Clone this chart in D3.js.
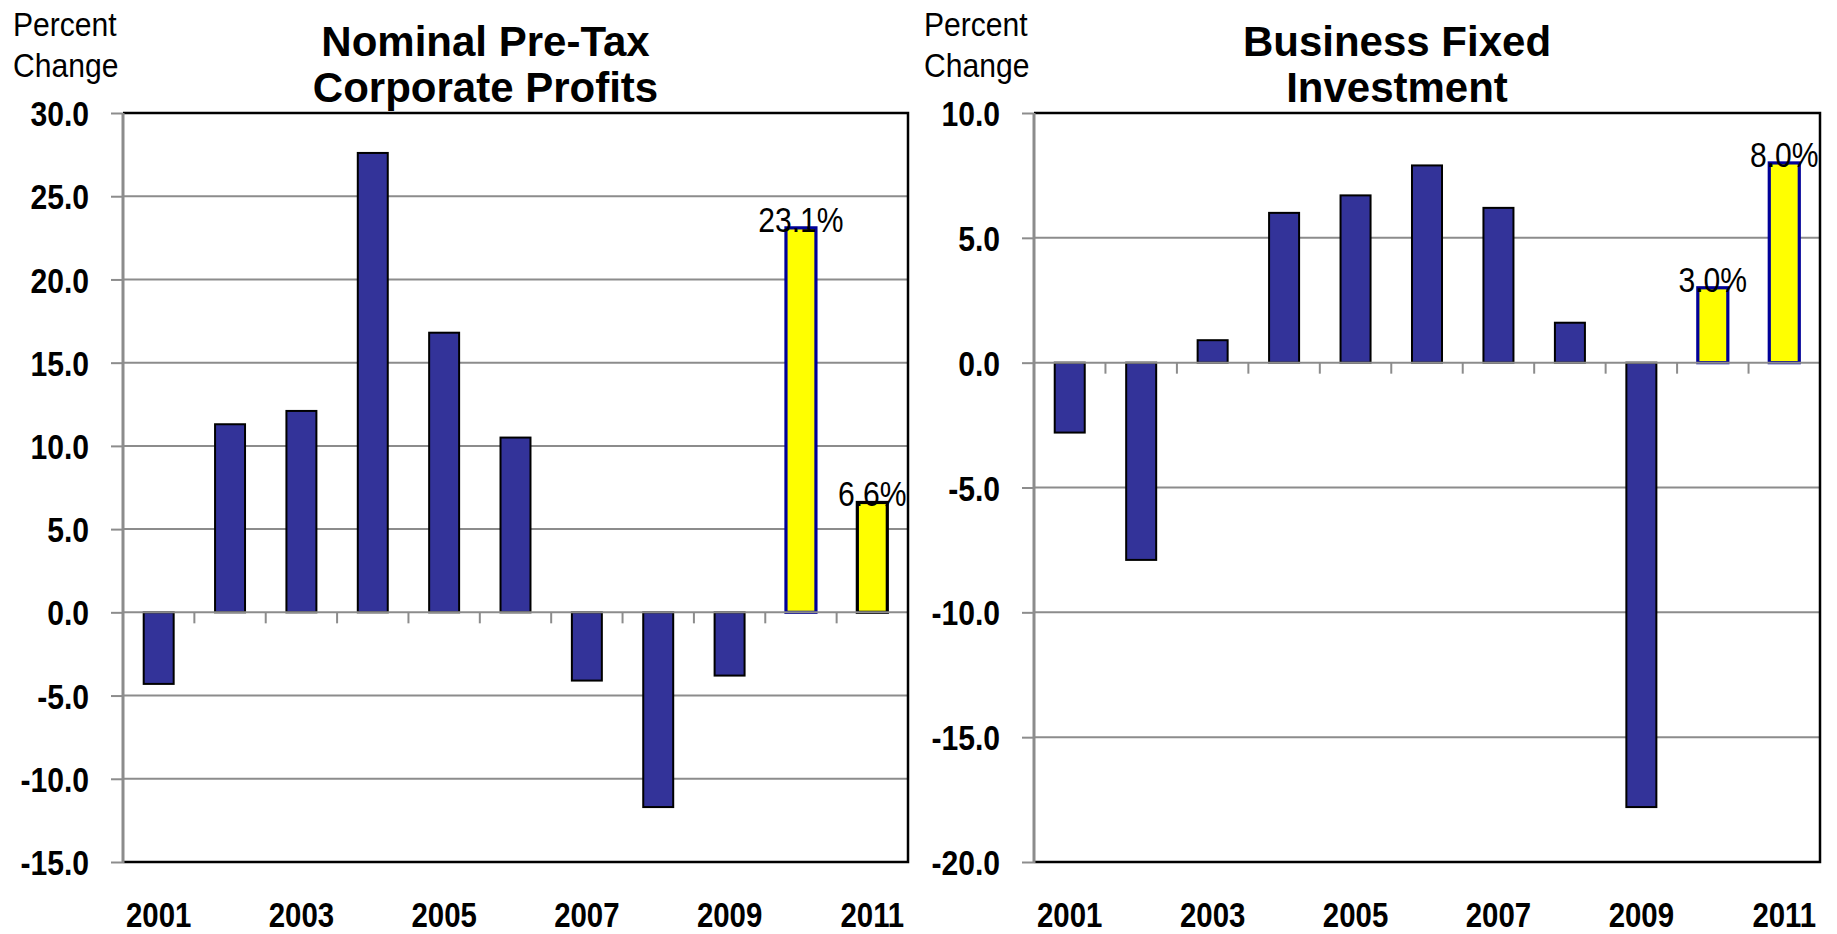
<!DOCTYPE html>
<html>
<head>
<meta charset="utf-8">
<script src="https://cdn.jsdelivr.net/npm/d3@7"></script>
<style>
  html, body { margin: 0; padding: 0; background: #ffffff; }
  svg { display: block; }
</style>
</head>
<body>
<svg id="chart" width="1837" height="934"></svg>
<script>
// ---------------- DATA ----------------
const years = [2001, 2002, 2003, 2004, 2005, 2006, 2007, 2008, 2009, 2010, 2011];
const yearLabels = [2001, 2003, 2005, 2007, 2009, 2011];
const forecastYears = [2010, 2011];

const profitsTitle = ["Nominal Pre-Tax", "Corporate Profits"];
const profitsValues = [-4.3, 11.3, 12.1, 27.6, 16.8, 10.5, -4.1, -11.7, -3.8, 23.1, 6.6];
const profitsTicks = [30, 25, 20, 15, 10, 5, 0, -5, -10, -15];

const investmentTitle = ["Business Fixed", "Investment"];
const investmentValues = [-2.8, -7.9, 0.9, 6.0, 6.7, 7.9, 6.2, 1.6, -17.8, 3.0, 8.0];
const investmentTicks = [10, 5, 0, -5, -10, -15, -20];

const unitLabel = ["Percent", "Change"];

// ---------------- DRAW ----------------
const svg = d3.select("#chart");
svg.append("rect").attr("width", 1837).attr("height", 934).attr("fill", "#ffffff");

const FONT = "'Liberation Sans', Arial, Helvetica, sans-serif";
const GRID = "#8c8c8c";
const BAR = "#333399";
const YELLOW = "#ffff00";
const NAVY = "#000099";

function narrow(sel, f) {
  sel.each(function () {
    const w = this.getComputedTextLength();
    this.setAttribute("textLength", (w * f).toFixed(2));
    this.setAttribute("lengthAdjust", "spacingAndGlyphs");
  });
}

function drawChart(cfg) {
  const { left, right, top, bottom, title, values, ticks, lastStroke } = cfg;
  const g = svg.append("g");
  const data = years.map((yr, i) => ({ year: yr, value: values[i] }));

  const x = d3.scaleBand().domain(years).range([left, right])
    .paddingInner(0.58).paddingOuter(0.29);
  const y = d3.scaleLinear().domain([d3.min(ticks), d3.max(ticks)]).range([bottom, top]);

  // gridlines (interior, excluding zero which is drawn above bars)
  g.append("g").selectAll("line")
    .data(ticks.filter(t => t !== 0 && t !== d3.min(ticks) && t !== d3.max(ticks)))
    .join("line")
    .attr("x1", left).attr("x2", right)
    .attr("y1", d => y(d)).attr("y2", d => y(d))
    .attr("stroke", GRID).attr("stroke-width", 2);

  // bars
  g.append("g").selectAll("rect")
    .data(data)
    .join("rect")
    .attr("x", d => x(d.year))
    .attr("width", x.bandwidth())
    .attr("y", d => y(Math.max(0, d.value)))
    .attr("height", d => Math.abs(y(d.value) - y(0)))
    .attr("fill", d => forecastYears.includes(d.year) ? YELLOW : BAR)
    .attr("stroke", d => {
      if (!forecastYears.includes(d.year)) return "#000000";
      return (d.year === years[years.length - 1] && lastStroke) ? lastStroke : NAVY;
    })
    .attr("stroke-width", d => forecastYears.includes(d.year) ? 3.2 : 2);

  // zero line (category axis) and category boundary ticks
  g.append("line")
    .attr("x1", left).attr("x2", right)
    .attr("y1", y(0)).attr("y2", y(0))
    .attr("stroke", GRID).attr("stroke-width", 2);
  g.append("g").selectAll("line")
    .data(d3.range(1, years.length + 1))
    .join("line")
    .attr("x1", i => left + i * x.step()).attr("x2", i => left + i * x.step())
    .attr("y1", y(0)).attr("y2", y(0) + 11)
    .attr("stroke", GRID).attr("stroke-width", 2);

  // frame: top, right, bottom black
  g.append("path")
    .attr("d", `M${left},${top}H${right}V${bottom}H${left}`)
    .attr("fill", "none").attr("stroke", "#000000").attr("stroke-width", 2.5);

  // y axis
  const yAxis = g.append("g")
    .attr("transform", `translate(${left},0)`)
    .call(d3.axisLeft(y).tickValues(ticks).tickFormat(d => d.toFixed(1))
      .tickSize(12).tickPadding(22));
  yAxis.select(".domain").remove();
  yAxis.selectAll(".tick line").attr("stroke", GRID).attr("stroke-width", 2);
  yAxis.attr("font-family", FONT).attr("font-size", 35).attr("font-weight", "bold");
  yAxis.selectAll(".tick text").attr("fill", "#000").attr("dy", "0.36em");
  narrow(yAxis.selectAll(".tick text"), 0.86);
  g.append("line")
    .attr("x1", left).attr("x2", left)
    .attr("y1", top).attr("y2", bottom + 1)
    .attr("stroke", GRID).attr("stroke-width", 3);

  // x axis labels
  const xAxis = g.append("g")
    .attr("transform", `translate(0,${bottom})`)
    .call(d3.axisBottom(x).tickValues(yearLabels).tickSize(0).tickPadding(40));
  xAxis.select(".domain").remove();
  xAxis.attr("font-family", FONT).attr("font-size", 35).attr("font-weight", "bold");
  xAxis.selectAll(".tick text").attr("fill", "#000");
  narrow(xAxis.selectAll(".tick text"), 0.84);

  // data labels for forecast years
  const lbl = g.append("g").selectAll("text")
    .data(data.filter(d => forecastYears.includes(d.year)))
    .join("text")
    .attr("x", d => x(d.year) + x.bandwidth() / 2)
    .attr("y", d => y(d.value) + 4)
    .attr("text-anchor", "middle")
    .attr("font-family", FONT).attr("font-size", 35)
    .attr("fill", "#000")
    .text(d => d.value.toFixed(1) + "%");
  narrow(lbl, 0.86);

  // unit label
  const ul = g.append("g").selectAll("text")
    .data(unitLabel)
    .join("text")
    .attr("x", left - 110)
    .attr("y", (d, i) => 36 + i * 41)
    .attr("font-family", FONT).attr("font-size", 34)
    .attr("fill", "#000")
    .text(d => d);
  narrow(ul, 0.885);

  // title
  g.append("g").selectAll("text")
    .data(title)
    .join("text")
    .attr("x", (left + right) / 2 - 30)
    .attr("y", (d, i) => 56 + i * 46)
    .attr("text-anchor", "middle")
    .attr("font-family", FONT).attr("font-size", 42).attr("font-weight", "bold")
    .attr("fill", "#000")
    .text(d => d);
}

drawChart({
  left: 123, right: 908, top: 113, bottom: 862,
  title: profitsTitle, values: profitsValues, ticks: profitsTicks,
  lastStroke: "#000000"
});

drawChart({
  left: 1034, right: 1820, top: 113, bottom: 862,
  title: investmentTitle, values: investmentValues, ticks: investmentTicks,
  lastStroke: null
});
</script>
</body>
</html>
